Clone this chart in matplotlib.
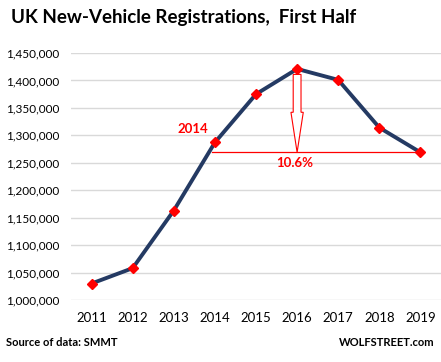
import numpy as np
import matplotlib
matplotlib.use('Agg')
import matplotlib.pyplot as plt
from matplotlib.patches import FancyArrow

years = ['2011', '2012', '2013', '2014', '2015', '2016', '2017', '2018', '2019']
registrations = [1030000, 1058000, 1163000, 1287000, 1375000, 1421000, 1401000, 1314000, 1269000]
yticks = [1000000, 1050000, 1100000, 1150000, 1200000, 1250000, 1300000, 1350000, 1400000, 1450000]

plt.rcParams['font.family'] = ['Lato', 'DejaVu Sans']

fig = plt.figure(figsize=(4.41, 3.62), dpi=100)
ax = fig.add_axes([71/441, 62/362, 370/441, 247/362])

x = np.arange(len(years))
ax.plot(x, registrations, color='#243a63', lw=2.8, marker='D', ms=5.5,
        mfc='#ff0000', mec='#ff0000', zorder=4)

ax.set_xlim(-0.5, len(years) - 0.5)
ax.set_ylim(yticks[0], yticks[-1])
ax.set_yticks(yticks)
ax.set_yticklabels(['{:,}'.format(v) for v in yticks], fontsize=8.5)
ax.set_xticks(x)
ax.set_xticklabels(years, fontsize=9.5)
ax.tick_params(axis='y', length=0, pad=8.5)
ax.tick_params(axis='x', length=0, pad=9)
ax.grid(axis='y', color='#d9d9d9', lw=1)
ax.set_axisbelow(True)
for s in ax.spines.values():
    s.set_visible(False)

# drop from 2016 peak to 2019
i14, i16, i19 = 3, 5, 8
ax.plot([i14 - 0.08, i19], [registrations[i19], registrations[i19]], color='#ff0000', lw=0.9, zorder=3)
ax.add_patch(FancyArrow(i16, registrations[i16] - 10000, 0, -(registrations[i16] - 10000 - registrations[i19]),
                        width=0.19, head_width=0.3, head_length=73000, length_includes_head=True,
                        fc='white', ec='#ff0000', lw=0.8, zorder=3))
ax.text(i14 - 0.15, 1312000, '2014', color='#ff0000', fontsize=9.5, fontweight='bold', ha='right', va='center')
ax.text(i16 - 0.05, 1250000, '10.6%', color='#ff0000', fontsize=9.5, fontweight='bold', ha='center', va='center')

fig.text(11/441, 1 - 18/362, 'UK New-Vehicle Registrations,  First Half', fontsize=13.5,
         fontweight='bold', ha='left', va='center')
fig.text(6/441, 1 - 342/362, 'Source of data: SMMT', fontsize=8, fontweight='bold', ha='left', va='center')
fig.text(435/441, 1 - 343/362, 'WOLFSTREET.com', fontsize=8, fontweight='bold', ha='right', va='center')

fig.savefig('out.png', dpi=100)
